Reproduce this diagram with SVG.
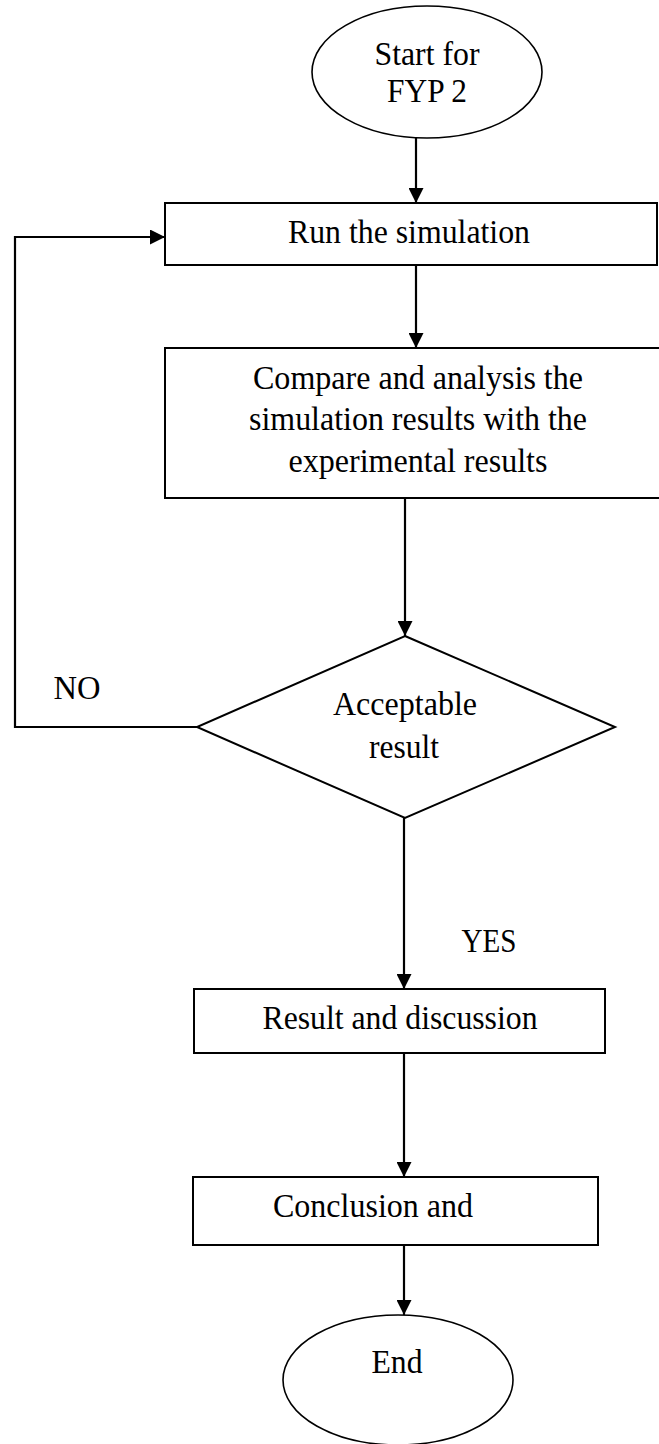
<svg xmlns="http://www.w3.org/2000/svg" width="659" height="1444" viewBox="0 0 659 1444">
  <style>
    .shape { fill: #ffffff; stroke: #000000; stroke-width: 2; }
    .oval { fill: #ffffff; stroke: #000000; stroke-width: 1.6; }
    .edge { fill: none; stroke: #000000; stroke-width: 2.2; }
    .label { font-family: "Liberation Serif", "Times New Roman", serif; font-size: 33px; fill: #000000; text-anchor: middle; }
  </style>
  <defs>
    <marker id="arrow" markerUnits="userSpaceOnUse" markerWidth="15" markerHeight="15" viewBox="0 0 15 15" refX="15" refY="7.5" orient="auto">
      <path d="M0,0 L15,7.5 L0,15 z" fill="#000000"/>
    </marker>
  </defs>

  <rect width="659" height="1444" fill="#ffffff"/>

  <!-- connectors -->
  <g id="connectors">
    <line class="edge" x1="416" y1="138" x2="416" y2="203" marker-end="url(#arrow)"/>
    <line class="edge" x1="416" y1="265" x2="416" y2="348" marker-end="url(#arrow)"/>
    <line class="edge" x1="405" y1="498" x2="405" y2="636" marker-end="url(#arrow)"/>
    <line class="edge" x1="404" y1="818" x2="404" y2="989" marker-end="url(#arrow)"/>
    <line class="edge" x1="404" y1="1053" x2="404" y2="1177" marker-end="url(#arrow)"/>
    <line class="edge" x1="404" y1="1245" x2="404" y2="1315" marker-end="url(#arrow)"/>
    <polyline class="edge" points="197,727 15,727 15,237 165,237" marker-end="url(#arrow)"/>
    <text class="label" x="77" y="699" textLength="47" lengthAdjust="spacingAndGlyphs">NO</text>
    <text class="label" x="489" y="952" textLength="55" lengthAdjust="spacingAndGlyphs">YES</text>
  </g>

  <!-- start terminal -->
  <g id="start">
    <ellipse class="oval" cx="427" cy="72" rx="115" ry="66"/>
    <text class="label" x="427" y="65" textLength="105" lengthAdjust="spacingAndGlyphs">Start for</text>
    <text class="label" x="427" y="102" textLength="80" lengthAdjust="spacingAndGlyphs">FYP 2</text>
  </g>

  <!-- run step -->
  <g id="run">
    <rect class="shape" x="165" y="203" width="492" height="62"/>
    <text class="label" x="409" y="243" textLength="242" lengthAdjust="spacingAndGlyphs">Run the simulation</text>
  </g>

  <!-- comparison step -->
  <g id="compare">
    <rect class="shape" x="165" y="348" width="505" height="150"/>
    <text class="label" x="418" y="389" textLength="330" lengthAdjust="spacingAndGlyphs">Compare and analysis the</text>
    <text class="label" x="418" y="430" textLength="338" lengthAdjust="spacingAndGlyphs">simulation results with the</text>
    <text class="label" x="418" y="472" textLength="259" lengthAdjust="spacingAndGlyphs">experimental results</text>
  </g>

  <!-- decision -->
  <g id="decision">
    <polygon class="shape" points="405,636 615,727 405,818 197,727"/>
    <text class="label" x="405" y="715" textLength="144" lengthAdjust="spacingAndGlyphs">Acceptable</text>
    <text class="label" x="404" y="758" textLength="70" lengthAdjust="spacingAndGlyphs">result</text>
  </g>

  <!-- results step -->
  <g id="result">
    <rect class="shape" x="194" y="989" width="411" height="64"/>
    <text class="label" x="400" y="1029" textLength="275" lengthAdjust="spacingAndGlyphs">Result and discussion</text>
  </g>

  <!-- conclusion step -->
  <g id="conclusion">
    <rect class="shape" x="193" y="1177" width="405" height="68"/>
    <text class="label" x="373" y="1217" textLength="200" lengthAdjust="spacingAndGlyphs">Conclusion and</text>
  </g>

  <!-- end terminal -->
  <g id="end">
    <ellipse class="oval" cx="398" cy="1380" rx="115" ry="65"/>
    <text class="label" x="397" y="1373" textLength="51" lengthAdjust="spacingAndGlyphs">End</text>
  </g>
</svg>
